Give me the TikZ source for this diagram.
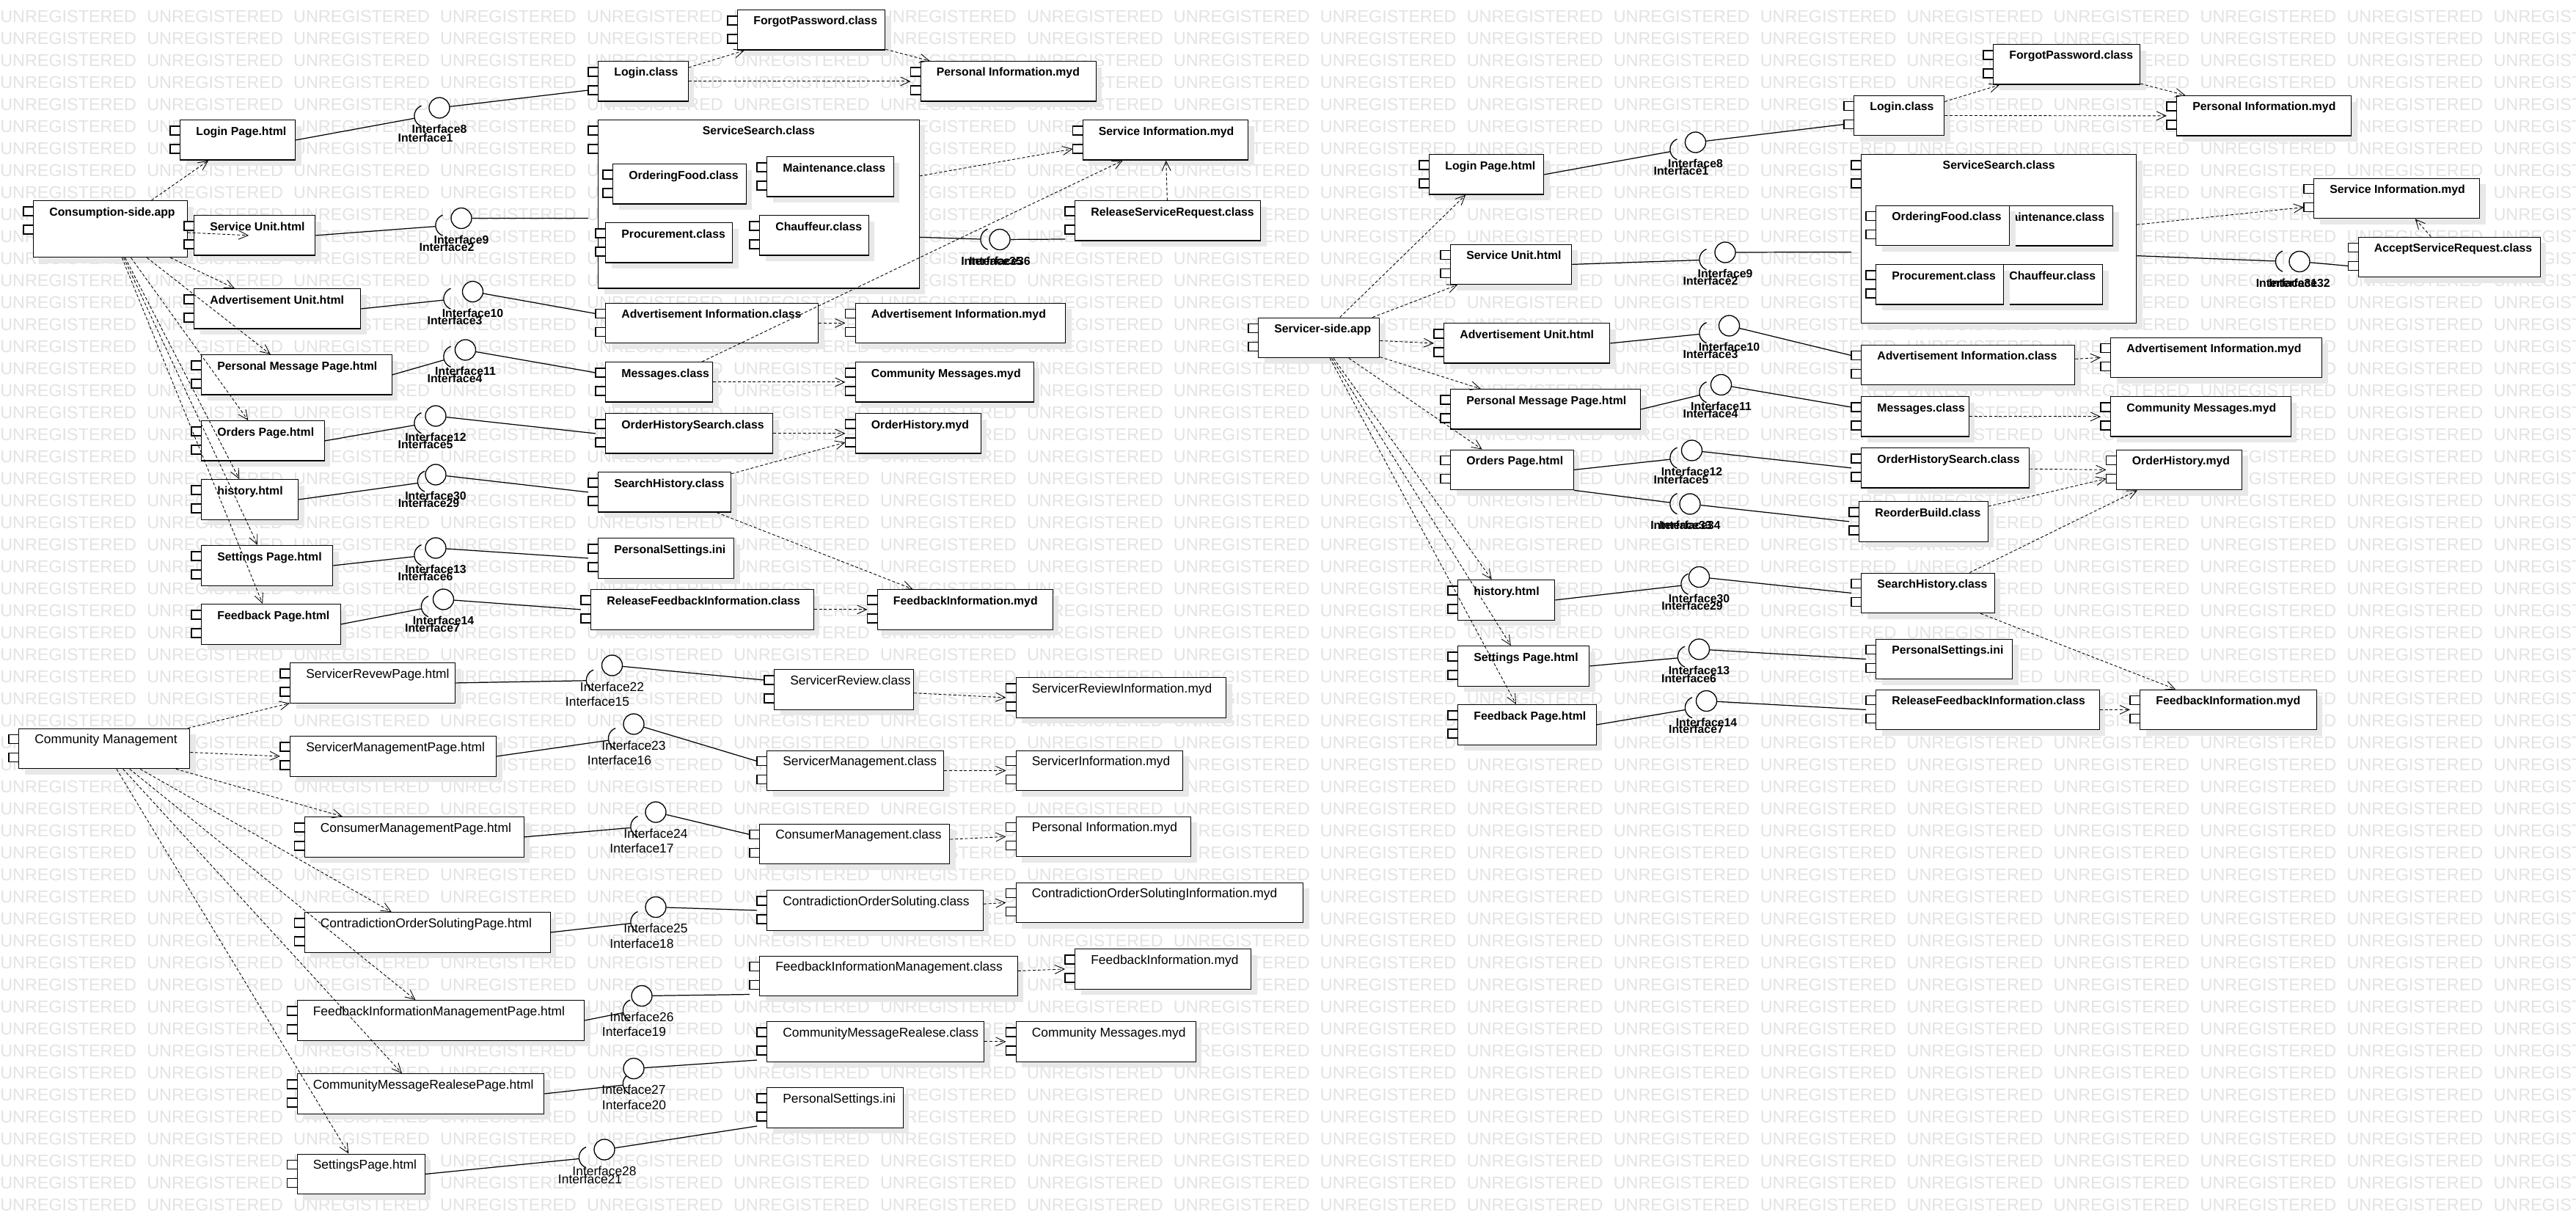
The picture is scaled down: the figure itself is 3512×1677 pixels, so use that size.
\documentclass[tikz,border=0pt]{standalone}
\usepackage{fontspec}
\setmainfont{Liberation Sans}
\usetikzlibrary{shadows,arrows.meta}
\newcommand\fbold{\fontsize{9}{10}\selectfont\bfseries}
\newcommand\freg{\fontsize{9.9}{11}\selectfont}
\newcommand\fwm{\fontsize{13.3}{14}\selectfont}
\newcommand\wmw{\makebox[4cm][l]{UNREGISTERED}}
\newcommand\wmrow{\wmw\wmw\wmw\wmw\wmw\wmw\wmw\wmw\wmw\wmw\wmw\wmw\wmw\wmw\wmw\wmw\wmw\wmw}
\tikzset{
  port/.style={draw, fill=white, line width=0.75pt},
  comp/.style={draw, line width=0.75pt, fill=white, anchor=north west, inner sep=0pt,
    minimum width=#1*0.02cm, minimum height=1.09cm,
    drop shadow={shadow xshift=0.16cm, shadow yshift=-0.16cm, fill=black!9, opacity=1},
    append after command={\pgfextra{
      \edef\compname{\tikzlastnode}
      \draw[port] ([shift={(-13,9)}]\compname.north west) rectangle ++(26,12);
      \draw[port] ([shift={(-13,34)}]\compname.north west) rectangle ++(26,12);
      \coordinate (\compname-p1) at ([shift={(-13,15)}]\compname.north west);
      \coordinate (\compname-p2) at ([shift={(-13,40)}]\compname.north west);
      \coordinate (\compname-sw) at ([shift={(-13,53)}]\compname.north west);
      \coordinate (\compname-w) at ([xshift=-0.26cm]\compname.west);}}},
  cname/.style={anchor=base west, inner sep=0pt, xshift=0.44cm, yshift=-0.42cm, font=\fbold},
  ctitle/.style={anchor=base, inner sep=0pt, yshift=-0.4cm, font=\fbold},
  ball/.style={circle, draw, line width=0.75pt, fill=white, minimum size=0.56cm, inner sep=0pt},
  sock/.style={circle, minimum size=0.6cm, inner sep=0pt,
    append after command={\pgfextra{\draw[line width=0.75pt] (\tikzlastnode.111) arc[start angle=111, end angle=249, radius=0.3cm];}}},
  ilbl/.style={anchor=center, inner sep=0pt, yshift=-0.58cm, font=\fbold},
  conn/.style={line width=0.7pt},
  dep/.style={->, line width=0.5pt, dash pattern=on 0.08cm off 0.055cm},
  wmark/.style={anchor=base west, inner sep=0pt, text=black!11, font=\fwm}
}
\begin{document}
\begin{tikzpicture}[x=0.02cm, y=-0.02cm, >={Straight Barb[length=0.26cm,width=0.24cm]}]
  \path[use as bounding box, fill=white] (0,0) rectangle (3512,1677);
  \begin{scope}
    \clip (0,0) rectangle (3512,1677);
    \foreach \r in {0,...,54}
      \node[wmark] (wm\r) at (0,30+30*\r) {\wmrow};
  \end{scope}

  \node[comp=209.5, minimum height=1.54cm, label={[cname]north west:Consumption-side.app}] (cons) at (45,273) {};
  \node[comp=157, label={[cname]north west:Login Page.html}] (lp1) at (245,163) {};
  \node[comp=165, label={[cname]north west:Service Unit.html}] (su1) at (264,293) {};
  \node[comp=227, label={[cname]north west:Advertisement Unit.html}] (au1) at (264,393) {};
  \node[comp=259.5, label={[cname]north west:Personal Message Page.html}] (pm1) at (274,483) {};
  \node[comp=167.5, label={[cname]north west:Orders Page.html}] (op1) at (274,573) {};
  \node[comp=132, label={[cname]north west:history.html}] (hi1) at (274,653) {};
  \node[comp=179, label={[cname]north west:Settings Page.html}] (sp1) at (274,743) {};
  \node[comp=189.5, label={[cname]north west:Feedback Page.html}] (fp1) at (274,823) {};
  \node[comp=122.5, label={[cname]north west:Login.class}] (lc1) at (815,83) {};
  \node[comp=201, label={[cname]north west:ForgotPassword.class}] (fg1) at (1005,13) {};
  \node[comp=239, label={[cname]north west:Personal Information.myd}] (pi1) at (1254.5,83) {};
  \node[comp=437.5, minimum height=4.59cm, label={[ctitle]north:ServiceSearch.class}] (ss1) at (815,163) {};
  \node[comp=181.5, label={[cname]north west:OrderingFood.class}] (of1) at (835,223) {};
  \node[comp=172.5, label={[cname]north west:Maintenance.class}] (mt1) at (1045,213) {};
  \node[comp=173, label={[cname]north west:Procurement.class}] (pc1) at (825,303) {};
  \node[comp=148.5, label={[cname]north west:Chauffeur.class}] (ch1) at (1035,293) {};
  \node[comp=225.5, label={[cname]north west:Service Information.myd}] (si1) at (1475.5,163) {};
  \node[comp=253, label={[cname]north west:ReleaseServiceRequest.class}] (rsr) at (1465,273) {};
  \node[comp=290, label={[cname]north west:Advertisement Information.class}] (aic1) at (825,412.5) {};
  \node[comp=286.5, label={[cname]north west:Advertisement Information.myd}] (aim1) at (1165.5,412.5) {};
  \node[comp=146, label={[cname]north west:Messages.class}] (ms1) at (825,493) {};
  \node[comp=243, label={[cname]north west:Community Messages.myd}] (cm1) at (1165.5,493) {};
  \node[comp=228, label={[cname]north west:OrderHistorySearch.class}] (ohs1) at (825,563) {};
  \node[comp=171, label={[cname]north west:OrderHistory.myd}] (oh1) at (1165.5,563) {};
  \node[comp=181, label={[cname]north west:SearchHistory.class}] (sh1) at (815,643) {};
  \node[comp=185, label={[cname]north west:PersonalSettings.ini}] (ps1) at (815,733) {};
  \node[comp=303.5, label={[cname]north west:ReleaseFeedbackInformation.class}] (rfi1) at (805,803) {};
  \node[comp=239, label={[cname]north west:FeedbackInformation.myd}] (fi1) at (1195.5,803) {};

  \node[sock, label={[ilbl]center:Interface1}] (s1) at (580,158.5) {};
  \node[ball, label={[ilbl]center:Interface8}] (b8) at (599,147) {};
  \node[sock, label={[ilbl]center:Interface2}] (s2) at (609,307.5) {};
  \node[ball, label={[ilbl]center:Interface9}] (b9) at (629,297.5) {};
  \node[sock, label={[ilbl]center:Interface3}] (s3) at (620,407.5) {};
  \node[ball, label={[ilbl]center:Interface10}] (b10) at (644.5,397.5) {};
  \node[sock, label={[ilbl]center:Interface4}] (s4) at (620,486.5) {};
  \node[ball, label={[ilbl]center:Interface11}] (b11) at (634.5,477) {};
  \node[sock, label={[ilbl]center:Interface5}] (s5) at (580,577) {};
  \node[ball, label={[ilbl]center:Interface12}] (b12) at (594,567) {};
  \node[sock, label={[ilbl]center:Interface29}] (s29) at (584.5,656.5) {};
  \node[ball, label={[ilbl]center:Interface30}] (b30) at (594,647) {};
  \node[sock, label={[ilbl]center:Interface6}] (s6) at (580,757) {};
  \node[ball, label={[ilbl]center:Interface13}] (b13) at (594,747) {};
  \node[sock, label={[ilbl]center:Interface7}] (s7) at (589.5,827) {};
  \node[ball, label={[ilbl]center:Interface14}] (b14) at (604.5,817) {};
  \node[sock, label={[ilbl]center:Interface35}] (s35) at (1352,326.5) {};
  \node[ball, label={[ilbl]center:Interface36}] (b36) at (1363,326.5) {};

  \draw[dep] (cons) -- (lp1);
  \draw[dep] (cons) -- ([xshift=-0.16cm]su1.center);
  \draw[dep] (cons) -- (au1);
  \draw[dep] (cons) -- (pm1);
  \draw[dep] (cons) -- (op1);
  \draw[dep] (cons) -- (hi1);
  \draw[dep] (cons) -- (sp1);
  \draw[dep] (cons) -- (fp1);
  \draw[dep] (lc1) -- (fg1);
  \draw[dep] (fg1) -- (pi1);
  \draw[dep] (lc1) -- (pi1-w);
  \draw[dep] (ss1) -- (si1-p2);
  \draw[dep] (ms1) -- (si1);
  \draw[dep] (rsr) -- (si1);
  \draw[dep] (aic1) -- (aim1-w);
  \draw[dep] (ms1) -- (cm1-w);
  \draw[dep] (ohs1) -- (oh1-w);
  \draw[dep] (sh1) -- (oh1-p2);
  \draw[dep] (sh1) -- (fi1);
  \draw[dep] (rfi1) -- (fi1-w);
  \draw[conn] (lp1.east) -- (s1);
  \draw[conn] (b8) -- (lc1-p2);
  \draw[conn] (su1.east) -- (s2);
  \draw[conn] (b9) -- ([shift={(-13,19)}]ss1.west);
  \draw[conn] (au1.east) -- (s3);
  \draw[conn] (b10) -- (aic1-p1);
  \draw[conn] (pm1.east) -- (s4);
  \draw[conn] (b11) -- (ms1-p1);
  \draw[conn] (op1.east) -- (s5);
  \draw[conn] (b12) -- (ohs1-w);
  \draw[conn] (hi1.east) -- (s29);
  \draw[conn] (b30) -- (sh1-w);
  \draw[conn] (sp1.east) -- (s6);
  \draw[conn] (b13) -- (ps1-w);
  \draw[conn] (fp1.east) -- (s7);
  \draw[conn] (b14) -- (rfi1-w);
  \draw[conn] ([yshift=-0.9cm]ss1.east) -- (s35);
  \draw[conn] (b36) -- (rsr-sw);

  \begin{scope}[cname/.append style={font=\freg}, ilbl/.append style={font=\freg}]
    \node[comp=233, label={[cname]north west:Community Management}] (cmg) at (25,992.5) {};
    \node[comp=225, label={[cname]north west:ServicerRevewPage.html}] (srp) at (395,903) {};
    \node[comp=281, label={[cname]north west:ServicerManagementPage.html}] (smp) at (395,1003) {};
    \node[comp=299, label={[cname]north west:ConsumerManagementPage.html}] (cmp) at (414.5,1113) {};
    \node[comp=335, label={[cname]north west:ContradictionOrderSolutingPage.html}] (cosp) at (414.5,1243) {};
    \node[comp=391.5, label={[cname]north west:FeedbackInformationManagementPage.html}] (fimp) at (404.5,1363) {};
    \node[comp=336.5, label={[cname]north west:CommunityMessageRealesePage.html}] (cmrp) at (404.5,1463) {};
    \node[comp=174, label={[cname]north west:SettingsPage.html}] (stp) at (404.5,1572.5) {};
    \node[comp=189.5, label={[cname]north west:ServicerReview.class}] (src) at (1055,912) {};
    \node[comp=286.5, label={[cname]north west:ServicerReviewInformation.myd}] (sri) at (1384.5,923) {};
    \node[comp=241, label={[cname]north west:ServicerManagement.class}] (smc) at (1045,1022.5) {};
    \node[comp=227.5, label={[cname]north west:ServicerInformation.myd}] (sim) at (1384.5,1022.5) {};
    \node[comp=259, label={[cname]north west:ConsumerManagement.class}] (cmc) at (1035,1122.5) {};
    \node[comp=238.5, label={[cname]north west:Personal Information.myd}] (pi2) at (1384.5,1112.5) {};
    \node[comp=294.5, label={[cname]north west:ContradictionOrderSoluting.class}] (cosc) at (1045,1213) {};
    \node[comp=391.5, label={[cname]north west:ContradictionOrderSolutingInformation.myd}] (cosi) at (1384.5,1202.5) {};
    \node[comp=351.5, label={[cname]north west:FeedbackInformationManagement.class}] (fimc) at (1035,1302.5) {};
    \node[comp=240, label={[cname]north west:FeedbackInformation.myd}] (fi2) at (1465,1293) {};
    \node[comp=296, label={[cname]north west:CommunityMessageRealese.class}] (cmrc) at (1045,1392) {};
    \node[comp=245, label={[cname]north west:Community Messages.myd}] (cm2) at (1384.5,1392) {};
    \node[comp=185.5, label={[cname]north west:PersonalSettings.ini}] (ps2) at (1045,1482) {};

    \node[sock, label={[ilbl]center:Interface15}] (s15) at (814.5,927.5) {};
    \node[ball, label={[ilbl]center:Interface22}] (b22) at (834.5,907) {};
    \node[sock, label={[ilbl]center:Interface16}] (s16) at (844.5,1007) {};
    \node[ball, label={[ilbl]center:Interface23}] (b23) at (864,987) {};
    \node[sock, label={[ilbl]center:Interface17}] (s17) at (875,1127) {};
    \node[ball, label={[ilbl]center:Interface24}] (b24) at (894,1107) {};
    \node[sock, label={[ilbl]center:Interface18}] (s18) at (875,1257) {};
    \node[ball, label={[ilbl]center:Interface25}] (b25) at (894,1236.5) {};
    \node[sock, label={[ilbl]center:Interface19}] (s19) at (864.5,1377.5) {};
    \node[ball, label={[ilbl]center:Interface26}] (b26) at (875,1357.5) {};
    \node[sock, label={[ilbl]center:Interface20}] (s20) at (864.5,1477.5) {};
    \node[ball, label={[ilbl]center:Interface27}] (b27) at (864,1456.5) {};
    \node[sock, label={[ilbl]center:Interface21}] (s21) at (804.5,1578) {};
    \node[ball, label={[ilbl]center:Interface28}] (b28) at (824,1567) {};
  \end{scope}

  \draw[dep] (cmg) -- (srp);
  \draw[dep] (cmg) -- (smp-w);
  \draw[dep] (cmg) -- (cmp);
  \draw[dep] (cmg) -- (cosp);
  \draw[dep] (cmg) -- (fimp);
  \draw[dep] (cmg) -- (cmrp);
  \draw[dep] (cmg) -- (stp);
  \draw[dep] (src) -- (sri-w);
  \draw[dep] (smc) -- (sim-w);
  \draw[dep] (cmc) -- (pi2-w);
  \draw[dep] (cosc) -- (cosi-w);
  \draw[dep] (fimc) -- (fi2-w);
  \draw[dep] (cmrc) -- (cm2-w);
  \draw[conn] (srp.east) -- (s15);
  \draw[conn] (b22) -- (src-p1);
  \draw[conn] (smp.east) -- (s16);
  \draw[conn] (b23) -- (smc-p1);
  \draw[conn] (cmp.east) -- (s17);
  \draw[conn] (b24) -- (cmc-p1);
  \draw[conn] (cosp.east) -- (s18);
  \draw[conn] (b25) -- (cosc-w);
  \draw[conn] (fimp.east) -- (s19);
  \draw[conn] (b26) -- (fimc-sw);
  \draw[conn] (cmrp.east) -- (s20);
  \draw[conn] (b27) -- (cmrc-sw);
  \draw[conn] (stp.east) -- (s21);
  \draw[conn] (b28) -- (ps2-sw);

  \node[comp=165, label={[cname]north west:Servicer-side.app}] (sa) at (1715,432.5) {};
  \node[comp=156, label={[cname]north west:Login Page.html}] (lp3) at (1948,210) {};
  \node[comp=165, label={[cname]north west:Service Unit.html}] (su3) at (1977,332.5) {};
  \node[comp=226, label={[cname]north west:Advertisement Unit.html}] (au3) at (1968,440) {};
  \node[comp=259, label={[cname]north west:Personal Message Page.html}] (pm3) at (1977,530) {};
  \node[comp=167.5, label={[cname]north west:Orders Page.html}] (op3) at (1977,612.5) {};
  \node[comp=132, label={[cname]north west:history.html}] (hi3) at (1987,790) {};
  \node[comp=179, label={[cname]north west:Settings Page.html}] (sp3) at (1987,880) {};
  \node[comp=188.5, label={[cname]north west:Feedback Page.html}] (fp3) at (1987,960) {};
  \node[comp=123, label={[cname]north west:Login.class}] (lc3) at (2527,129.5) {};
  \node[comp=200, label={[cname]north west:ForgotPassword.class}] (fg3) at (2717,60) {};
  \node[comp=238, label={[cname]north west:Personal Information.myd}] (pi3) at (2967,130) {};
  \node[comp=375, minimum height=4.6cm, label={[ctitle]north:ServiceSearch.class}] (ss3) at (2537,210) {};
  \node[comp=173, label={[cname]north west:Maintenance.class}] (mt3) at (2707,280) {};
  \node[comp=182, label={[cname]north west:OrderingFood.class}] (of3) at (2557,279.5) {};
  \node[comp=149, label={[cname]north west:Chauffeur.class}] (ch3) at (2717,360) {};
  \node[comp=174, label={[cname]north west:Procurement.class}] (pc3) at (2557,360) {};
  \node[comp=226, label={[cname]north west:Service Information.myd}] (si3) at (3154,242.5) {};
  \node[comp=248, label={[cname]north west:AcceptServiceRequest.class}] (asr) at (3214.5,322.5) {};
  \node[comp=291, label={[cname]north west:Advertisement Information.class}] (aic3) at (2537,469.5) {};
  \node[comp=288, label={[cname]north west:Advertisement Information.myd}] (aim3) at (2877,459.5) {};
  \node[comp=146.5, label={[cname]north west:Messages.class}] (ms3) at (2537,540) {};
  \node[comp=245.5, label={[cname]north west:Community Messages.myd}] (cm3) at (2877,540) {};
  \node[comp=229, label={[cname]north west:OrderHistorySearch.class}] (ohs3) at (2537,610) {};
  \node[comp=171.5, label={[cname]north west:OrderHistory.myd}] (oh3) at (2884.5,612.5) {};
  \node[comp=175.5, label={[cname]north west:ReorderBuild.class}] (rb) at (2534,683) {};
  \node[comp=181.5, label={[cname]north west:SearchHistory.class}] (sh3) at (2537,780.5) {};
  \node[comp=186, label={[cname]north west:PersonalSettings.ini}] (ps3) at (2557,870.5) {};
  \node[comp=304.5, label={[cname]north west:ReleaseFeedbackInformation.class}] (rfi3) at (2557,939.5) {};
  \node[comp=240.5, label={[cname]north west:FeedbackInformation.myd}] (fi3) at (2917,939.5) {};

  \node[sock, label={[ilbl]center:Interface1}] (s1r) at (2292,204) {};
  \node[ball, label={[ilbl]center:Interface8}] (b8r) at (2311.5,194) {};
  \node[sock, label={[ilbl]center:Interface2}] (s2r) at (2332,354) {};
  \node[ball, label={[ilbl]center:Interface9}] (b9r) at (2352,344) {};
  \node[sock, label={[ilbl]center:Interface3}] (s3r) at (2332,454) {};
  \node[ball, label={[ilbl]center:Interface10}] (b10r) at (2357.5,444) {};
  \node[sock, label={[ilbl]center:Interface4}] (s4r) at (2332,535) {};
  \node[ball, label={[ilbl]center:Interface11}] (b11r) at (2346.5,524.5) {};
  \node[sock, label={[ilbl]center:Interface5}] (s5r) at (2292,624.5) {};
  \node[ball, label={[ilbl]center:Interface12}] (b12r) at (2306.5,614) {};
  \node[sock, label={[ilbl]center:Interface33}] (s33) at (2292,687) {};
  \node[ball, label={[ilbl]center:Interface34}] (b34) at (2304,687) {};
  \node[sock, label={[ilbl]center:Interface29}] (s29r) at (2307,796.5) {};
  \node[ball, label={[ilbl]center:Interface30}] (b30r) at (2316.5,786.5) {};
  \node[sock, label={[ilbl]center:Interface6}] (s6r) at (2302.5,895.5) {};
  \node[ball, label={[ilbl]center:Interface13}] (b13r) at (2316.5,885) {};
  \node[sock, label={[ilbl]center:Interface7}] (s7r) at (2312.5,965) {};
  \node[ball, label={[ilbl]center:Interface14}] (b14r) at (2326.5,955.5) {};
  \node[sock, label={[ilbl]center:Interface31}] (s31) at (3117.5,356.5) {};
  \node[ball, label={[ilbl]center:Interface32}] (b32) at (3135,356.5) {};

  \draw[dep] (sa) -- (lp3);
  \draw[dep] (sa) -- (su3);
  \draw[dep] (sa) -- (au3-w);
  \draw[dep] (sa) -- (pm3);
  \draw[dep] (sa) -- (op3);
  \draw[dep] (sa) -- (hi3);
  \draw[dep] (sa) -- (sp3);
  \draw[dep] (sa) -- (fp3);
  \draw[dep] (lc3) -- (fg3);
  \draw[dep] (fg3) -- (pi3);
  \draw[dep] (lc3) -- (pi3-w);
  \draw[dep] (ss3) -- (si3-p2);
  \draw[dep] (asr) -- (si3);
  \draw[dep] (aic3) -- (aim3-w);
  \draw[dep] (ms3) -- (cm3-w);
  \draw[dep] (ohs3) -- (oh3-w);
  \draw[dep] (rb) -- (oh3-p2);
  \draw[dep] (sh3) -- (oh3);
  \draw[dep] (sh3) -- (fi3);
  \draw[dep] (rfi3) -- (fi3-w);
  \draw[conn] (lp3.east) -- (s1r);
  \draw[conn] (b8r) -- (lc3-p2);
  \draw[conn] (su3.east) -- (s2r);
  \draw[conn] (b9r) -- ([shift={(-13,18)}]ss3.west);
  \draw[conn] (au3.east) -- (s3r);
  \draw[conn] (b10r) -- (aic3-p1);
  \draw[conn] (pm3.east) -- (s4r);
  \draw[conn] (b11r) -- (ms3-p1);
  \draw[conn] (op3.east) -- (s5r);
  \draw[conn] (b12r) -- (ohs3-w);
  \draw[conn] (op3.south east) -- (s33);
  \draw[conn] (b34) -- (rb-w);
  \draw[conn] (hi3.east) -- (s29r);
  \draw[conn] (b30r) -- (sh3-w);
  \draw[conn] (sp3.east) -- (s6r);
  \draw[conn] (b13r) -- (ps3-w);
  \draw[conn] (fp3.east) -- (s7r);
  \draw[conn] (b14r) -- (rfi3-w);
  \draw[conn] ([yshift=-0.46cm]ss3.east) -- (s31);
  \draw[conn] (b32) -- (asr-p2);
\end{tikzpicture}
\end{document}
